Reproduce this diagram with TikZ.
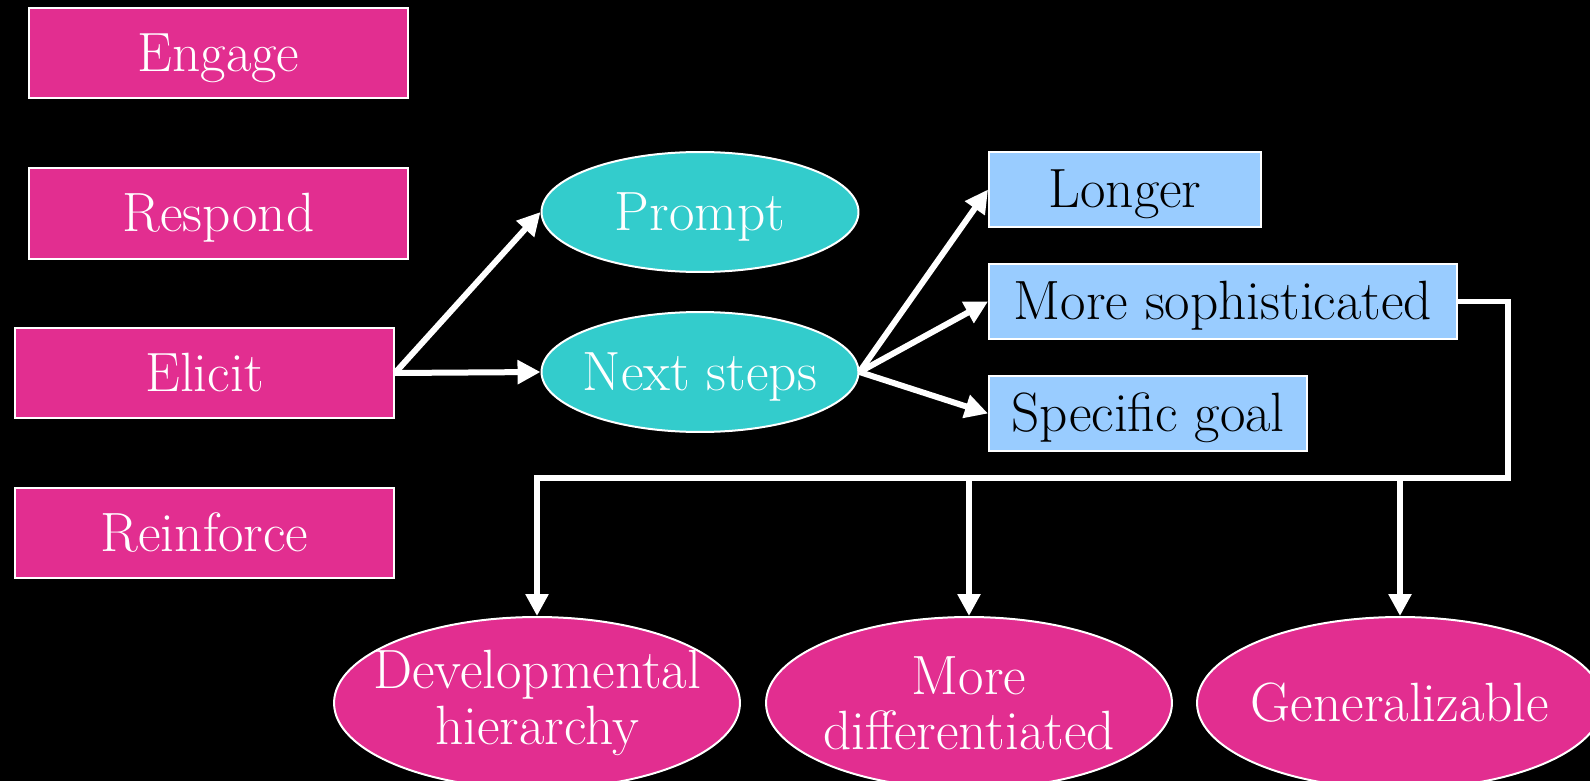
\documentclass[tikz,border=0pt]{standalone}
\usetikzlibrary{arrows.meta,shapes.geometric}
\definecolor{pinkfill}{RGB}{226,46,144}
\definecolor{tealfill}{RGB}{51,204,204}
\definecolor{bluefill}{RGB}{153,204,255}
\begin{document}
\begin{tikzpicture}[x=0.02cm,y=-0.02cm,
  lbl/.style={font=\fontsize{31.5}{31.5}\selectfont, align=center, inner sep=0pt,
    draw=white, line width=0.04cm},
  oneline/.style={text height=20.5pt, text depth=0pt},
  pinkbox/.style={lbl, oneline, rectangle, fill=pinkfill, text=white,
    minimum width=7.58cm, minimum height=1.82cm},
  tealoval/.style={lbl, oneline, ellipse, inner xsep=-0.8cm, fill=tealfill, text=white,
    minimum width=6.34cm, minimum height=2.4cm},
  bluebox/.style={lbl, oneline, rectangle, fill=bluefill, text=black, minimum height=1.5cm},
  pinkoval/.style={lbl, ellipse, inner xsep=-0.8cm, fill=pinkfill, text=white,
    minimum width=8.12cm, minimum height=3.44cm},
  arr/.style={draw=white, line width=0.12cm,
    -{Triangle[length=0.46cm,width=0.46cm]}},
  conn/.style={draw=white, line width=0.11cm, miter limit=10,
    -{Triangle[length=0.44cm,width=0.44cm]}}]

% page and background
\useasboundingbox (0,0) rectangle (1590,781);
\fill[black] (0,0) rectangle (1590,781);

% left column
\node[pinkbox] (engage)    at (218.5,53)  {Engage};
\node[pinkbox] (respond)   at (218.5,213.5) {Respond};
\node[pinkbox] (elicit)    at (204.5,373) {Elicit};
\node[pinkbox] (reinforce) at (204.5,533) {Reinforce};

% middle ovals
\node[tealoval] (prompt) at (700,212) {Prompt};
\node[tealoval] (next)   at (700,372) {Next steps};

% right boxes
\node[bluebox, minimum width=5.44cm] (longer)   at (1125,189.5) {Longer};
\node[bluebox, minimum width=9.36cm] (soph)     at (1223,301.5) {More sophisticated};
\node[bluebox, minimum width=6.36cm] (specific) at (1148,413.5) {Specific goal};

% bottom ovals
\node[pinkoval] (dev)  at (537,703)  {Developmental\\hierarchy};
\node[pinkoval] (diff) at (969,703)  {More\\differentiated};
\node[pinkoval, oneline] (gen) at (1400,703) {Generalizable};

% connectors
\draw[arr] (elicit.east) -- (prompt.west);
\draw[arr] (elicit.east) -- (next.west);
\draw[arr] (next.east) -- (longer.west);
\draw[arr] (next.east) -- (soph.west);
\draw[arr] (next.east) -- (specific.west);

\coordinate (bend) at (1508,478);
\draw[conn] (soph.east) -| (bend) -- (dev.north |- bend) -- (dev.north);
\draw[conn] (diff.north |- bend) -- (diff.north);
\draw[conn] (gen.north |- bend) -- (gen.north);
\end{tikzpicture}
\end{document}
